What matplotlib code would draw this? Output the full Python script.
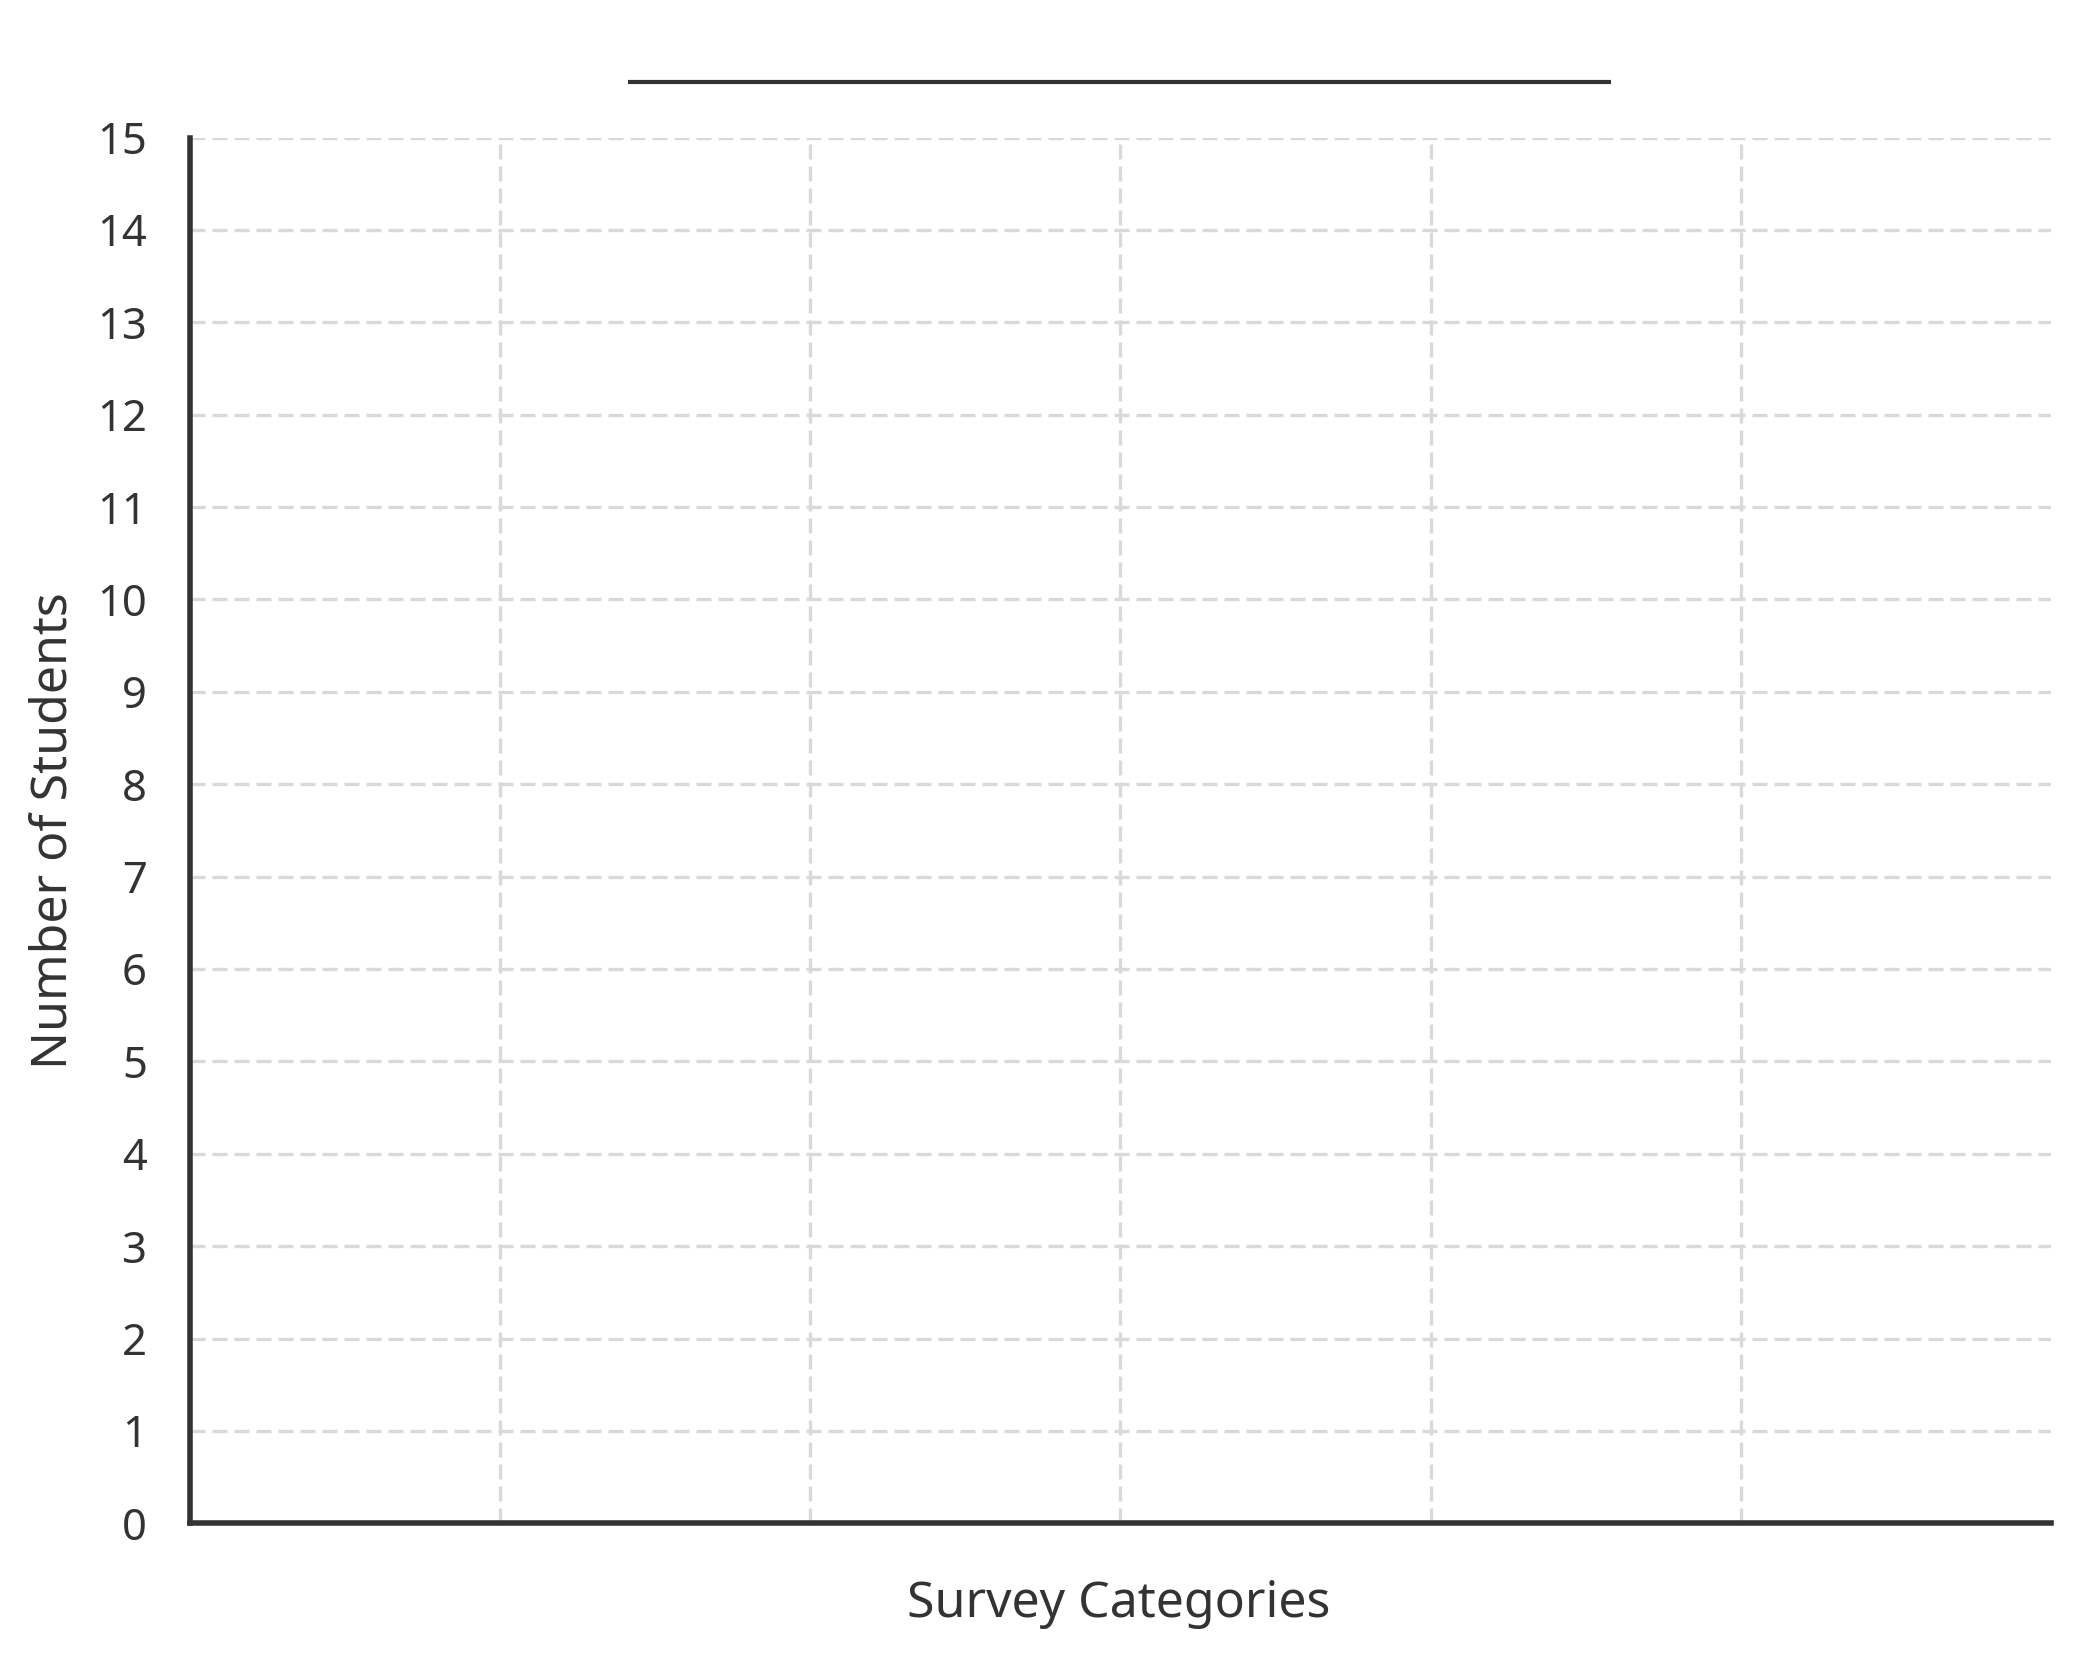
import matplotlib
matplotlib.use("Agg")
import matplotlib.pyplot as plt
from matplotlib.lines import Line2D

# Data (empty template chart)
categories = ["", "", "", "", "", ""]
y_ticks = list(range(0, 16))
x_label = "Survey Categories"
y_label = "Number of Students"

W, H, DPI = 2078, 1659, 200
TXT = "#333333"
GRID = "#d9d9d9"

plt.rcParams['font.family'] = ['Noto Sans', 'DejaVu Sans']

fig = plt.figure(figsize=(W / DPI, H / DPI), dpi=DPI)
fig.patch.set_facecolor("white")

x0, x1 = 189.5, 2051
ytop, ybot = 137.5, 1523.3
ax = fig.add_axes([x0 / W, 1 - ybot / H, (x1 - x0) / W, (ybot - ytop) / H])

ax.set_xlim(0, len(categories))
ax.set_ylim(0, 15)
ax.set_yticks(y_ticks)
ax.set_xticks(range(1, len(categories)))
ax.set_xticklabels([])

ax.tick_params(axis='y', length=0, pad=15.3, labelsize=15.7, labelcolor=TXT)
ax.tick_params(axis='x', length=0, labelbottom=False)

for s in ["top", "right"]:
    ax.spines[s].set_visible(False)
for s in ["left", "bottom"]:
    ax.spines[s].set_color(TXT)
    ax.spines[s].set_linewidth(2.0)
    ax.spines[s].set_zorder(5)

ax.grid(True, color=GRID, linewidth=1.2, linestyle=(0, (4.5, 2.1)))
ax.set_axisbelow(True)

# Y label
fig.text(66.7 / W, 1 - 830.4 / H, y_label, rotation=90, rotation_mode='anchor',
         ha='center', va='baseline', fontsize=18, color=TXT)
# X label
fig.text(1119 / W, 1 - 1617 / H, x_label, ha='center', va='baseline',
         fontsize=18, color=TXT)

# Blank title line
fig.add_artist(Line2D([627.7 / W, 1611 / W], [1 - 82 / H, 1 - 82 / H],
                      transform=fig.transFigure, color=TXT, linewidth=1.5,
                      solid_capstyle='butt'))

fig.savefig("out.png", dpi=DPI, facecolor="white")
